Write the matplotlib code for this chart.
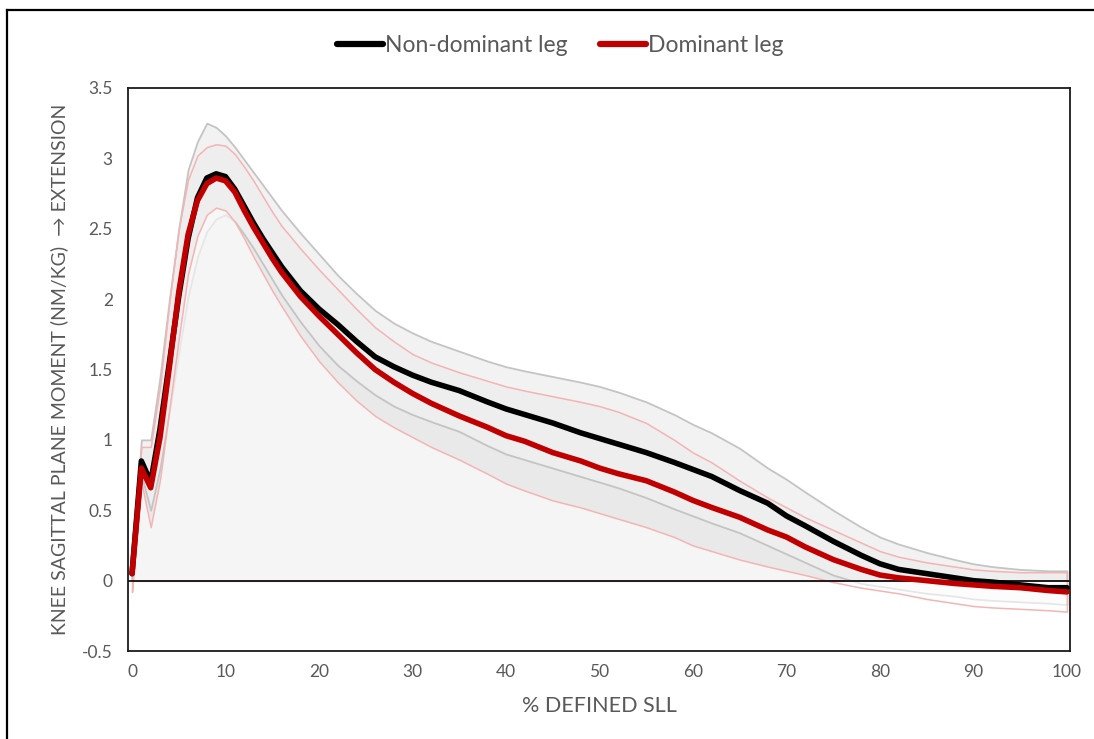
import numpy as np
import matplotlib
import matplotlib.pyplot as plt
from matplotlib.lines import Line2D

matplotlib.rcParams['font.family'] = ['Lato', 'DejaVu Sans']

# % of defined single leg landing
pct = [0, 1, 2, 3, 4, 5, 6, 7, 8, 9, 10, 11, 12, 13, 14, 15, 16, 18, 20, 22, 24, 26, 28, 30, 32,
       35, 38, 40, 42, 45, 48, 50, 52, 55, 58, 60, 62, 65, 68, 70, 72, 75, 78, 80, 82, 85, 88, 90, 92, 95, 98, 100]

# knee sagittal plane moment (Nm/kg), mean curves
nondom_mean = [0.05, 0.85, 0.70, 1.08, 1.55, 2.02, 2.43, 2.72, 2.86, 2.89, 2.87, 2.78, 2.66, 2.54, 2.43, 2.33, 2.23, 2.06, 1.93, 1.82, 1.70, 1.59, 1.52, 1.46, 1.41,
               1.35, 1.27, 1.22, 1.18, 1.12, 1.05, 1.01, 0.97, 0.91, 0.84, 0.79, 0.74, 0.64, 0.55, 0.46, 0.39, 0.28, 0.18, 0.12, 0.08, 0.05, 0.02, 0.00, -0.01, -0.03, -0.05, -0.05]
dom_mean = [0.05, 0.80, 0.66, 1.02, 1.52, 2.05, 2.46, 2.70, 2.82, 2.86, 2.84, 2.76, 2.63, 2.51, 2.40, 2.29, 2.19, 2.02, 1.88, 1.75, 1.62, 1.50, 1.41, 1.33, 1.26,
            1.17, 1.09, 1.03, 0.99, 0.91, 0.85, 0.80, 0.76, 0.71, 0.63, 0.57, 0.52, 0.45, 0.36, 0.31, 0.24, 0.15, 0.08, 0.04, 0.02, 0.00, -0.02, -0.03, -0.04, -0.05, -0.07, -0.08]

# +/- 1 SD envelopes
nondom_upper = [0.08, 1.00, 1.00, 1.45, 2.00, 2.50, 2.92, 3.12, 3.25, 3.22, 3.16, 3.08, 2.99, 2.90, 2.81, 2.72, 2.63, 2.47, 2.32, 2.17, 2.04, 1.92, 1.83, 1.76, 1.70,
                1.63, 1.56, 1.52, 1.49, 1.45, 1.41, 1.38, 1.34, 1.27, 1.18, 1.11, 1.05, 0.94, 0.80, 0.72, 0.63, 0.50, 0.38, 0.31, 0.26, 0.20, 0.15, 0.12, 0.10, 0.08, 0.07, 0.07]
nondom_lower = [0.03, 0.75, 0.50, 0.80, 1.20, 1.62, 2.02, 2.30, 2.48, 2.57, 2.60, 2.55, 2.46, 2.36, 2.25, 2.14, 2.03, 1.84, 1.67, 1.53, 1.42, 1.32, 1.24, 1.18, 1.13,
                1.06, 0.96, 0.90, 0.86, 0.80, 0.74, 0.70, 0.66, 0.59, 0.51, 0.46, 0.41, 0.34, 0.25, 0.19, 0.13, 0.04, -0.02, -0.04, -0.06, -0.09, -0.11, -0.13, -0.14, -0.15, -0.16, -0.17]
dom_upper = [0.07, 0.95, 0.95, 1.38, 1.98, 2.50, 2.85, 3.02, 3.08, 3.10, 3.09, 3.03, 2.94, 2.84, 2.73, 2.62, 2.52, 2.36, 2.21, 2.07, 1.93, 1.80, 1.70, 1.61, 1.55,
             1.48, 1.42, 1.38, 1.35, 1.31, 1.27, 1.24, 1.20, 1.12, 1.00, 0.91, 0.84, 0.71, 0.59, 0.52, 0.45, 0.36, 0.27, 0.21, 0.17, 0.13, 0.10, 0.08, 0.07, 0.06, 0.06, 0.06]
dom_lower = [-0.08, 0.70, 0.38, 0.72, 1.22, 1.72, 2.18, 2.45, 2.60, 2.65, 2.63, 2.55, 2.43, 2.30, 2.18, 2.06, 1.95, 1.74, 1.56, 1.41, 1.28, 1.17, 1.09, 1.02, 0.95,
             0.86, 0.76, 0.69, 0.64, 0.57, 0.52, 0.48, 0.44, 0.38, 0.31, 0.25, 0.21, 0.15, 0.10, 0.07, 0.04, -0.01, -0.05, -0.07, -0.09, -0.13, -0.16, -0.18, -0.19, -0.20, -0.21, -0.22]

yticks = [-0.5, 0, 0.5, 1, 1.5, 2, 2.5, 3, 3.5]
ytick_labels = ['-0.5', '0', '0.5', '1', '1.5', '2', '2.5', '3', '3.5']
xticks = [0, 10, 20, 30, 40, 50, 60, 70, 80, 90, 100]

text_color = '#595959'
gray_edge = '#c4c4c4'
pink_edge = '#f4b4b4'

fig = plt.figure(figsize=(10.94, 7.39), dpi=100)
ax = fig.add_axes([0.117, 0.119, 0.861, 0.762])

x = np.array(pct)

# SD envelopes drawn as area series: gray shading under the upper bounds,
# washed back out with white under the dominant-leg lower bound
ax.fill_between(x, 0, nondom_upper, facecolor=(0, 0, 0, 0.051), edgecolor=gray_edge, linewidth=1.3, zorder=1)
ax.fill_between(x, 0, dom_upper, facecolor=(0, 0, 0, 0.017), edgecolor=pink_edge, linewidth=1.1, zorder=1)
ax.fill_between(x, 0, nondom_lower, facecolor=(0, 0, 0, 0.02), edgecolor=gray_edge, linewidth=1.3, zorder=1)
ax.fill_between(x, 0, dom_lower, facecolor=(1, 1, 1, 0.59), edgecolor=pink_edge, linewidth=1.1, zorder=1)

ax.axhline(0, color='black', linewidth=1.2, zorder=2)

ax.plot(x, nondom_mean, color='black', linewidth=4.0, solid_capstyle='round', solid_joinstyle='round', zorder=3, label='Non-dominant leg')
ax.plot(x, dom_mean, color='#c00000', linewidth=4.0, solid_capstyle='round', solid_joinstyle='round', zorder=4, label='Dominant leg')

ax.set_xlim(-0.43, 100.32)
ax.set_ylim(-0.5, 3.5)
ax.set_xticks(xticks)
ax.set_yticks(yticks)
ax.set_yticklabels(ytick_labels)
ax.tick_params(axis='both', which='both', length=0, labelsize=12.5, labelcolor=text_color)
ax.tick_params(axis='y', pad=11)
ax.tick_params(axis='x', pad=9)

for sp in ax.spines.values():
  sp.set_linewidth(1.3)
  sp.set_edgecolor('#1a1a1a')

ax.set_xlabel('% DEFINED SLL', fontsize=15.5, color=text_color, labelpad=12)
ax.set_ylabel('KNEE SAGITTAL PLANE MOMENT (NM/KG)  \u2192 EXTENSION', fontsize=14, color=text_color, labelpad=10)

leg = fig.legend(loc='center', bbox_to_anchor=(0.512, 0.938), ncol=2, frameon=False, fontsize=16.5,
                 handlelength=2.0, handletextpad=0.1, columnspacing=1.4)
for text in leg.get_texts():
  text.set_color(text_color)
for line in leg.get_lines():
  line.set_linewidth(4.5)

# outer frame (top and left edges only)
fig.add_artist(Line2D([0.0064, 1.0], [0.9865, 0.9865], transform=fig.transFigure, color='black', linewidth=1.6))
fig.add_artist(Line2D([0.0064, 0.0064], [0.0, 0.9865], transform=fig.transFigure, color='black', linewidth=1.6))

fig.savefig('out.png', dpi=100, facecolor='white')
